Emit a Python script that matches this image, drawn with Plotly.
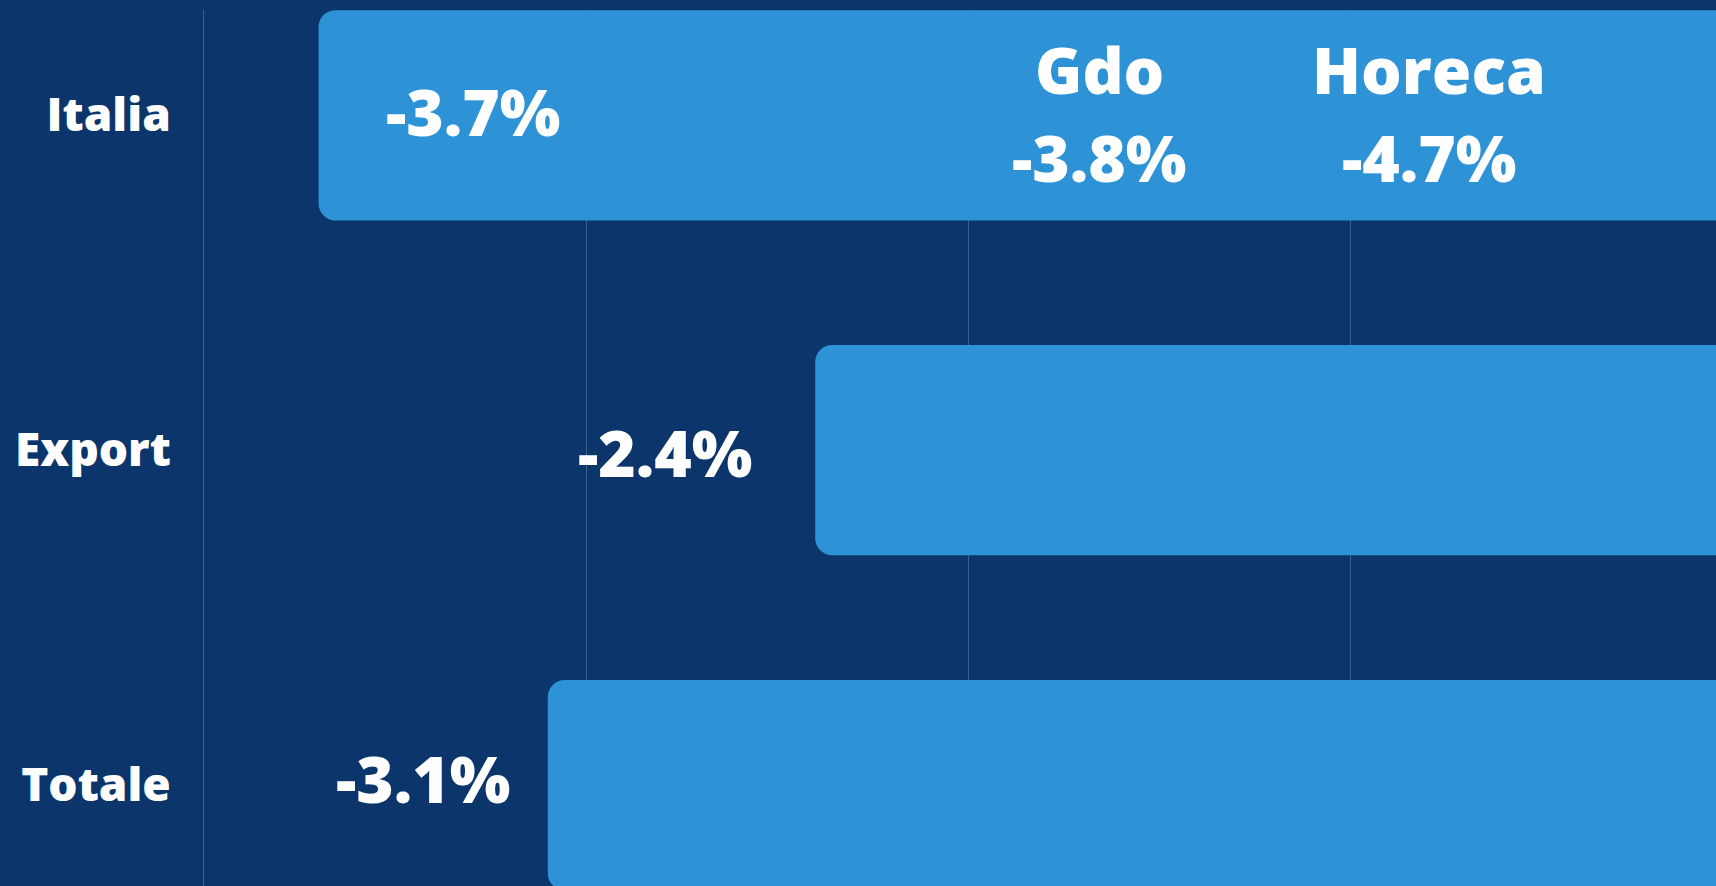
import plotly.graph_objects as go

# ---- data ----
categories = ["Italia", "Export", "Totale"]
values = [-3.7, -2.4, -3.1]
value_labels = ["-3.7%", "-2.4%", "-3.1%"]
sub_channels = ["Gdo", "Horeca"]
sub_values = [-3.8, -4.7]
sub_labels = ["-3.8%", "-4.7%"]

# ---- positions / styles (not data) ----
label_x = [-3.295, -2.792, -3.425]      # label centres in axis units
label_yshift = [4, -2, 7]
sub_x = [-1.655, -0.792]
BG = "#0b356b"
BAR = "#2e92d6"
GRID = "rgba(255,255,255,0.22)"
FONT = "Open Sans"
WEIGHT = 800
W, H = 1716, 886

fig = go.Figure()
fig.add_trace(go.Bar(
    y=categories, x=values, orientation="h",
    width=0.628,
    marker=dict(color=BAR, line=dict(width=0), cornerradius=17),
    hoverinfo="skip", showlegend=False,
))

for cat, lab, lx, ys in zip(categories, value_labels, label_x, label_yshift):
    fig.add_annotation(x=lx, y=cat, text=lab, showarrow=False,
                       xanchor="center", yanchor="middle", yshift=ys,
                       font=dict(family=FONT, size=64, color="white", weight=WEIGHT))

for name, lab, sx in zip(sub_channels, sub_labels, sub_x):
    fig.add_annotation(x=sx, y=categories[0], text=name, showarrow=False,
                       xanchor="center", yanchor="middle", yshift=46,
                       font=dict(family=FONT, size=64, color="white", weight=WEIGHT))
    fig.add_annotation(x=sx, y=categories[0], text=lab, showarrow=False,
                       xanchor="center", yanchor="middle", yshift=-42,
                       font=dict(family=FONT, size=64, color="white", weight=WEIGHT))

fig.update_layout(
    width=W, height=H,
    margin=dict(l=204, r=0, t=10, b=0, pad=0),
    paper_bgcolor=BG, plot_bgcolor=BG,
    bargap=0.37,
    xaxis=dict(range=[-4, -0.0419], dtick=1, tick0=0, showgrid=True,
               gridcolor=GRID, gridwidth=1, zeroline=False,
               showticklabels=False, showline=False, fixedrange=True),
    yaxis=dict(range=[2.3013, -0.3144], showgrid=False, zeroline=False,
               showline=True, linecolor=GRID, linewidth=1,
               ticks="", ticklabelstandoff=23,
               tickfont=dict(family=FONT, size=46, color="white", weight=WEIGHT),
               fixedrange=True),
)

fig.write_html(
    "out.html",
    config={"displayModeBar": False},
    post_script="document.body.style.margin='0';document.body.style.overflow='hidden';document.body.style.background='#0b356b';",
)
